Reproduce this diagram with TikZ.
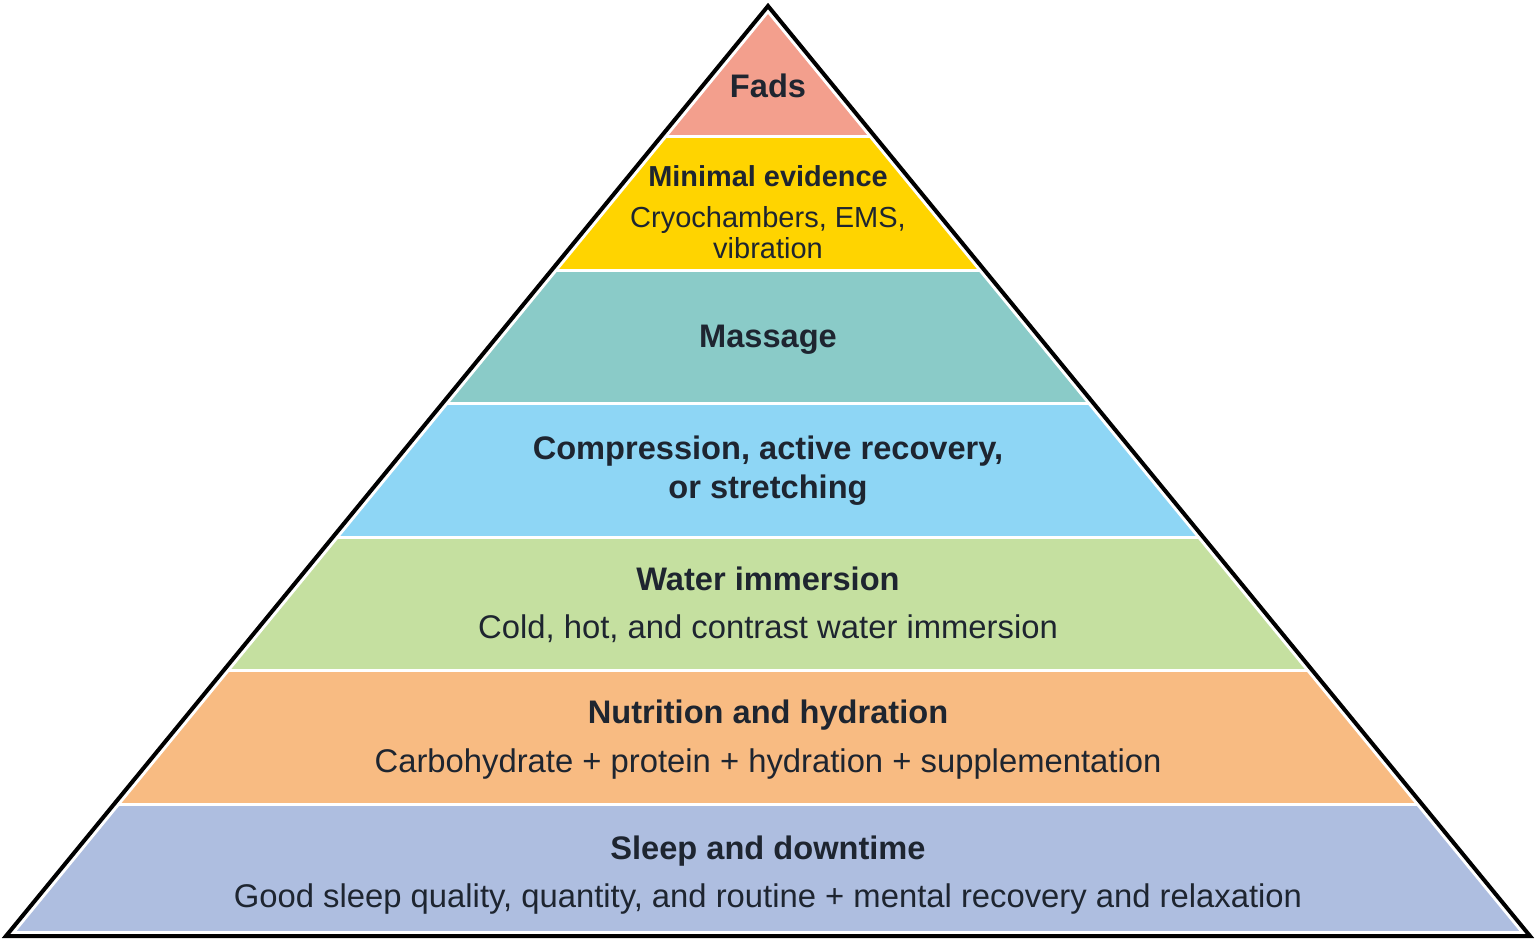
\documentclass[tikz,border=0pt]{standalone}
\usepackage{fontspec}
\setmainfont{Liberation Sans}
\definecolor{textc}{HTML}{1E2530}
\definecolor{cFads}{HTML}{F39F8D}
\definecolor{cMin}{HTML}{FFD400}
\definecolor{cMass}{HTML}{8ACBC8}
\definecolor{cComp}{HTML}{8ED6F5}
\definecolor{cWater}{HTML}{C5E0A0}
\definecolor{cNutr}{HTML}{F8BB82}
\definecolor{cSleep}{HTML}{AEBEE0}
\begin{document}
\begin{tikzpicture}[x=1pt,y=-1pt,
  txt/.style={text=textc, anchor=base, inner sep=0pt, font=\fontsize{32.8}{39}\selectfont},
  ttl/.style={text=textc, anchor=base, inner sep=0pt, font=\fontsize{32.6}{39}\selectfont\bfseries},
  stxt/.style={text=textc, anchor=base, inner sep=0pt, font=\fontsize{29}{34}\selectfont},
  sttl/.style={text=textc, anchor=base, inner sep=0pt, font=\fontsize{28.9}{34}\selectfont\bfseries},
  sep/.style={white, line width=3pt},
  outline/.style={line width=4pt, line join=miter}]
\useasboundingbox (0,0) rectangle (1536,940);
\coordinate (apex) at (768,6);
\coordinate (bl) at (6,936);
\coordinate (br) at (1530,936);
\begin{scope}
  \clip (apex) -- (bl) -- (br) -- cycle;
  \fill[cFads]  (0,0)   rectangle (1536,136);
  \fill[cMin]   (0,136) rectangle (1536,270);
  \fill[cMass]  (0,270) rectangle (1536,403);
  \fill[cComp]  (0,403) rectangle (1536,537);
  \fill[cWater] (0,537) rectangle (1536,670);
  \fill[cNutr]  (0,670) rectangle (1536,804);
  \fill[cSleep] (0,804) rectangle (1536,940);
  \foreach \yy in {136,270,403,537,670,804}
    \draw[sep] (0,\yy) -- (1536,\yy);
\end{scope}
\draw[white, line width=10pt, line join=miter] (apex) -- (bl) -- (br) -- cycle;
\draw[outline] (apex) -- (bl) -- (br) -- cycle;

\node[ttl]  (fads)  at (768,97)  {Fads};
\node[sttl] (minev) at (768,186) {Minimal evidence};
\node[stxt] (cryo)  at (768,227) {Cryochambers, EMS,};
\node[stxt] (vib)   at (768,258) {vibration};
\node[ttl]  (mass)  at (768,347) {Massage};
\node[ttl]  (comp)  at (768,459) {Compression, active recovery,};
\node[ttl]  (stret) at (768,498) {or stretching};
\node[ttl]  (water) at (768,590) {Water immersion};
\node[txt]  (cold)  at (768,638) {Cold, hot, and contrast water immersion};
\node[ttl]  (nutr)  at (768,723) {Nutrition and hydration};
\node[txt]  (carb)  at (768,772) {Carbohydrate + protein + hydration + supplementation};
\node[ttl]  (sleep) at (768,859) {Sleep and downtime};
\node[txt]  (good)  at (768,907) {Good sleep quality, quantity, and routine + mental recovery and relaxation};
\end{tikzpicture}
\end{document}
